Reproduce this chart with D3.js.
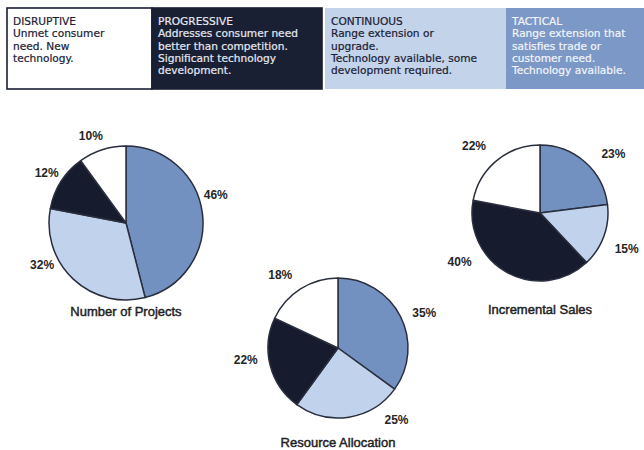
<!DOCTYPE html>
<html>
<head>
<meta charset="utf-8">
<script src="https://cdn.jsdelivr.net/npm/d3@7"></script>
<style>
  body { margin: 0; background: #fff; }
  svg { display: block; }
</style>
</head>
<body>
<script>
// categories in pie order (clockwise from 12 o'clock)
var categories = ["TACTICAL", "CONTINUOUS", "PROGRESSIVE", "DISRUPTIVE"];
var projectsValues = [46, 32, 12, 10];
var resourceValues = [35, 25, 22, 18];
var salesValues = [23, 15, 40, 22];
var chartTitles = ["Number of Projects", "Resource Allocation", "Incremental Sales"];

// header boxes (left to right)
var headerTitles = ["DISRUPTIVE", "PROGRESSIVE", "CONTINUOUS", "TACTICAL"];
var headerLines = [
  ["Unmet consumer", "need. New", "technology."],
  ["Addresses consumer need", "better than competition.", "Significant technology", "development."],
  ["Range extension or", "upgrade.", "Technology available, some", "development required."],
  ["Range extension that", "satisfies trade or", "customer need.", "Technology available."]
];

var svgWidth = 644, svgHeight = 450;
var navy = "#1a2034";

var fill = d3.scaleOrdinal()
  .domain(categories)
  .range(["#7290c0", "#c1d3ec", "#161b2e", "#ffffff"]);

var svg = d3.select("body").append("svg")
  .attr("width", svgWidth)
  .attr("height", svgHeight);

// ---- header ----
var boxes = [
  {x0: 7, x1: 152, bg: "#ffffff", fg: navy, border: navy},
  {x0: 152, x1: 322, bg: navy, fg: "#e4e8f0", border: navy},
  {x0: 325, x1: 506, bg: "#c3d3ea", fg: navy, border: "none"},
  {x0: 506, x1: 646, bg: "#7b98c6", fg: "#f3f5fa", border: "none"}
];
var head = svg.append("g");
boxes.forEach(function(b, i) {
  head.append("rect")
    .attr("x", b.x0).attr("y", 8)
    .attr("width", b.x1 - b.x0).attr("height", 81)
    .attr("fill", b.bg)
    .attr("stroke", b.border)
    .attr("stroke-width", 1.6);
  var t = head.append("text")
    .attr("x", b.x0 + 6)
    .attr("y", 25)
    .attr("font-family", "DejaVu Sans, sans-serif")
    .attr("font-size", "10.6px")
    .attr("fill", b.fg)
    .attr("stroke", b.fg)
    .attr("stroke-width", 0.2);
  t.append("tspan").attr("x", b.x0 + 6).attr("dy", 0).text(headerTitles[i]);
  headerLines[i].forEach(function(line) {
    t.append("tspan").attr("x", b.x0 + 6).attr("dy", 12.3).text(line);
  });
});

// ---- pies ----
var charts = [
  {values: projectsValues, title: chartTitles[0], cx: 126, cy: 223, r: 77, labelR: 94, nudge: [-10, 20, 0, -4], titleY: 316},
  {values: resourceValues, title: chartTitles[1], cx: 338, cy: 348, r: 70, labelR: 93, nudge: [5, -30, 7, -6], titleY: 447},
  {values: salesValues, title: chartTitles[2], cx: 540, cy: 213, r: 68, labelR: 94, nudge: [10, 3, 30, -5], titleY: 314}
];

var pie = d3.pie().sort(null).value(function(d) { return d; });

charts.forEach(function(c) {
  var arc = d3.arc().innerRadius(0).outerRadius(c.r);
  var g = svg.append("g").attr("transform", "translate(" + c.cx + "," + c.cy + ")");
  var pd = pie(c.values);

  g.selectAll("path").data(pd).enter().append("path")
    .attr("d", arc)
    .attr("fill", function(d, i) { return fill(categories[i]); })
    .attr("stroke", "#2a2f3f")
    .attr("stroke-width", 1.5)
    .attr("stroke-linejoin", "round");

  g.selectAll("text.pct").data(pd).enter().append("text")
    .attr("class", "pct")
    .attr("x", function(d, i) {
      var a = (d.startAngle + d.endAngle) / 2 + c.nudge[i] * Math.PI / 180;
      return Math.sin(a) * c.labelR;
    })
    .attr("y", function(d, i) {
      var a = (d.startAngle + d.endAngle) / 2 + c.nudge[i] * Math.PI / 180;
      return -Math.cos(a) * c.labelR;
    })
    .attr("text-anchor", "middle")
    .attr("dominant-baseline", "central")
    .attr("font-family", "Liberation Sans, Arial, sans-serif")
    .attr("font-weight", "bold")
    .attr("font-size", "12px")
    .attr("fill", "#262626")
    .text(function(d) { return d.data + "%"; });

  svg.append("text")
    .attr("x", c.cx)
    .attr("y", c.titleY)
    .attr("text-anchor", "middle")
    .attr("font-family", "Liberation Sans, Arial, sans-serif")
    .attr("font-size", "13px")
    .attr("fill", "#222")
    .attr("stroke", "#222")
    .attr("stroke-width", 0.45)
    .text(c.title);
});
</script>
</body>
</html>
